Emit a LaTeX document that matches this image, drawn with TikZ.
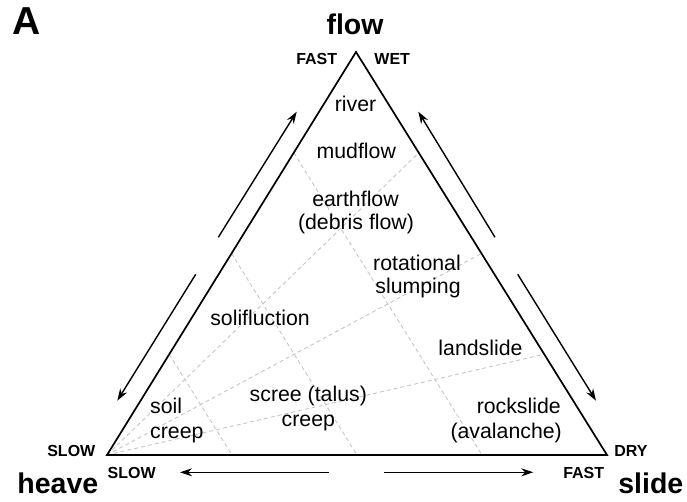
\documentclass[tikz,border=0pt]{standalone}
\usepackage{fontspec}
\setmainfont{Liberation Sans}
\usetikzlibrary{calc,arrows.meta}

\begin{document}
\begin{tikzpicture}[x=1pt,y=-1pt,
  edge/.style={line width=1.7pt,line join=miter},
  grid/.style={gray!45,line width=0.9pt,dash pattern=on 4pt off 3pt},
  dirarrow/.style={line width=1.4pt,-{Stealth[length=12pt,width=8pt]}},
  lbl/.style={inner sep=0pt,font=\fontsize{21.3}{24}\selectfont},
  corner/.style={inner sep=0pt,font=\fontsize{16}{18}\selectfont\bfseries},
  big/.style={inner sep=0pt,font=\fontsize{28.5}{32}\selectfont\bfseries}]
\useasboundingbox (0,0) rectangle (687,502);

% vertices of the ternary triangle
\coordinate (H) at (107,455);
\coordinate (S) at (607,455);
\coordinate (F) at (356,52);

% grid: lines parallel to the dry edge and rays from the heave corner
\foreach \k/\n in {0.25/a,0.5/b,0.75/c}{
  \coordinate (L\n) at ($(H)!\k!(F)$);
  \coordinate (B\n) at ($(H)!\k!(S)$);
  \coordinate (R\n) at ($(F)!\k!(S)$);
  \draw[grid] (L\n) -- (B\n);
  \draw[grid] (H) -- (R\n);
}

% outline
\draw[edge] (H) -- (F) -- (S) -- cycle;

% direction arrows beside the edges
\coordinate (lu1) at (218.3,237.3); \coordinate (lu2) at (296.7,111.7);
\coordinate (ll1) at (195.7,274.3); \coordinate (ll2) at (117.3,400.7);
\coordinate (ru1) at (495,237.3);   \coordinate (ru2) at (418.3,111.7);
\coordinate (rl1) at (517.7,274.3); \coordinate (rl2) at (596,400.7);
\coordinate (bl1) at (329,472.3);   \coordinate (bl2) at (180,472.3);
\coordinate (br1) at (384.3,472.3); \coordinate (br2) at (533.3,472.3);
\draw[dirarrow] (lu1) -- (lu2);
\draw[dirarrow] (ll1) -- (ll2);
\draw[dirarrow] (ru1) -- (ru2);
\draw[dirarrow] (rl1) -- (rl2);
\draw[dirarrow] (bl1) -- (bl2);
\draw[dirarrow] (br1) -- (br2);

% process names
\node[lbl,anchor=base] (river) at (355.5,112) {river};
\node[lbl,anchor=base] (mud) at (356.3,159) {mudflow};
\node[lbl,anchor=base] (earth) at (355.5,206.7) {earthflow};
\node[lbl,anchor=base] (debris) at (356,229.5) {(debris flow)};
\node[lbl,anchor=base] (rot) at (417,270) {rotational};
\node[lbl,anchor=base] (slump) at (418,293.3) {slumping};
\node[lbl,anchor=base] (soli) at (260,325) {solifluction};
\node[lbl,anchor=base] (land) at (480.5,355) {landslide};
\node[lbl,anchor=base] (scree) at (308.3,401.7) {scree (talus)};
\node[lbl,anchor=base] (screec) at (308.3,426.7) {creep};
\node[lbl,anchor=base west] (soil) at (150,413.3) {soil};
\node[lbl,anchor=base west] (soilc) at (150,438.3) {creep};
\node[lbl,anchor=base east] (rock) at (561,413.3) {rockslide};
\node[lbl,anchor=base east] (aval) at (562,438) {(avalanche)};

% corner annotations
\node[corner,anchor=base] (tfast) at (316.7,65) {FAST};
\node[corner,anchor=base] (twet) at (392.2,65) {WET};
\node[corner,anchor=base] (lslow) at (71.3,456.7) {SLOW};
\node[corner,anchor=base] (bslow) at (131.7,478.3) {SLOW};
\node[corner,anchor=base] (rdry) at (631,456) {DRY};
\node[corner,anchor=base] (bfast) at (583.7,478.3) {FAST};

% end-member names
\node[big,anchor=base] (flow) at (355,35) {flow};
\node[big,anchor=base] (heave) at (57.8,493.3) {heave};
\node[big,anchor=base] (slide) at (650.8,493.3) {slide};
\node[inner sep=0pt,anchor=base,font=\fontsize{39}{42}\selectfont\bfseries] (panel) at (27,35) {A};
\end{tikzpicture}
\end{document}
